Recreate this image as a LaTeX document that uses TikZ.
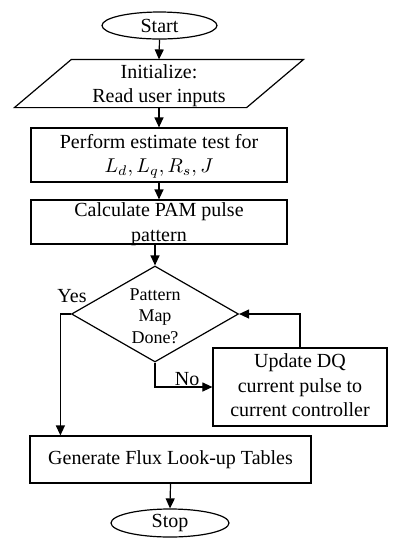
\documentclass[tikz,border=0pt]{standalone}
\usepackage{fontspec}
\setmainfont{Liberation Serif}
\usetikzlibrary{shapes.geometric,arrows.meta}
\newcommand{\boxlines}[1]{\begin{tabular}[b]{@{}c@{}}#1\end{tabular}}

\begin{document}
\begin{tikzpicture}[x=0.5pt,y=-0.5pt,
    font=\fontsize{10}{12}\selectfont,
    line width=0.6pt,
    >={Triangle[length=5pt,width=4.5pt]},
    terminal/.style={draw,ellipse,inner sep=0pt},
    process/.style={draw,rectangle,inner sep=0pt},
    decision/.style={draw,diamond,inner sep=0pt,minimum width=83.5pt,minimum height=48pt}]
    \useasboundingbox (0,0) rectangle (396,538);
    \node (start) at (159.5,25.5) [terminal,minimum width=57.5pt,minimum height=13.5pt] {Start};
    \node (init) at (159,83.5) [inner sep=0pt,minimum width=115.5pt,
      text height=21.25pt,text depth=2.25pt] {\boxlines{Initialize:\\Read user inputs}};
    \draw ([xshift=14.25pt]init.north west) -- ([xshift=14.25pt]init.north east)
      -- ([xshift=-14.25pt]init.south east) -- ([xshift=-14.25pt]init.south west) -- cycle;
    \node (perform) at (159,155) [process,minimum width=128pt,
      text height=22.25pt,text depth=4.75pt] {\boxlines{Perform estimate test for\\$L_d, L_q, R_s, J$}};
    \node (calc) at (159,222) [process,minimum width=128pt,font=\fontsize{10}{12.5}\selectfont,
      text height=20.75pt,text depth=1.25pt] {\boxlines{Calculate PAM pulse\\pattern}};
    \node (done) at (155,314) [decision] {};
    \node (donetxt) at (155,316) [align=center,font=\fontsize{9}{10.75}\selectfont] {Pattern\\Map\\Done?};
    \node (update) at (300,387) [process,minimum width=87pt,font=\fontsize{10}{12.25}\selectfont,
      text height=34.25pt,text depth=4.75pt] {\boxlines{Update DQ\\current pulse to\\current controller}};
    \node (gen) at (170.5,459.5) [process,minimum width=140.5pt,minimum height=23.5pt] {Generate Flux Look-up Tables};
    \node (stop) at (170,523) [terminal,minimum width=59pt,minimum height=14pt] {Stop};
    \node (yeslbl) at (72,296) {Yes};
    % connectors
    \draw [->] (start.south) -- (init.north);
    \draw [->] (init.south) -- (perform);
    \draw [->] (perform) -- (calc);
    \draw [->] (done.north |- calc.south) -- (done.north);
    \draw [->] (done.west) -- ++(-10.5,0) coordinate (yes) -- (yes |- gen.north);
    \draw [->] (done.south) |- (update.west) node (nolbl) [pos=0.78,above,inner sep=0.5pt] {No};
    \draw [->] (update.north) |- (done.east);
    \draw [->] (gen.south) -- (stop.north);
\end{tikzpicture}
\end{document}
